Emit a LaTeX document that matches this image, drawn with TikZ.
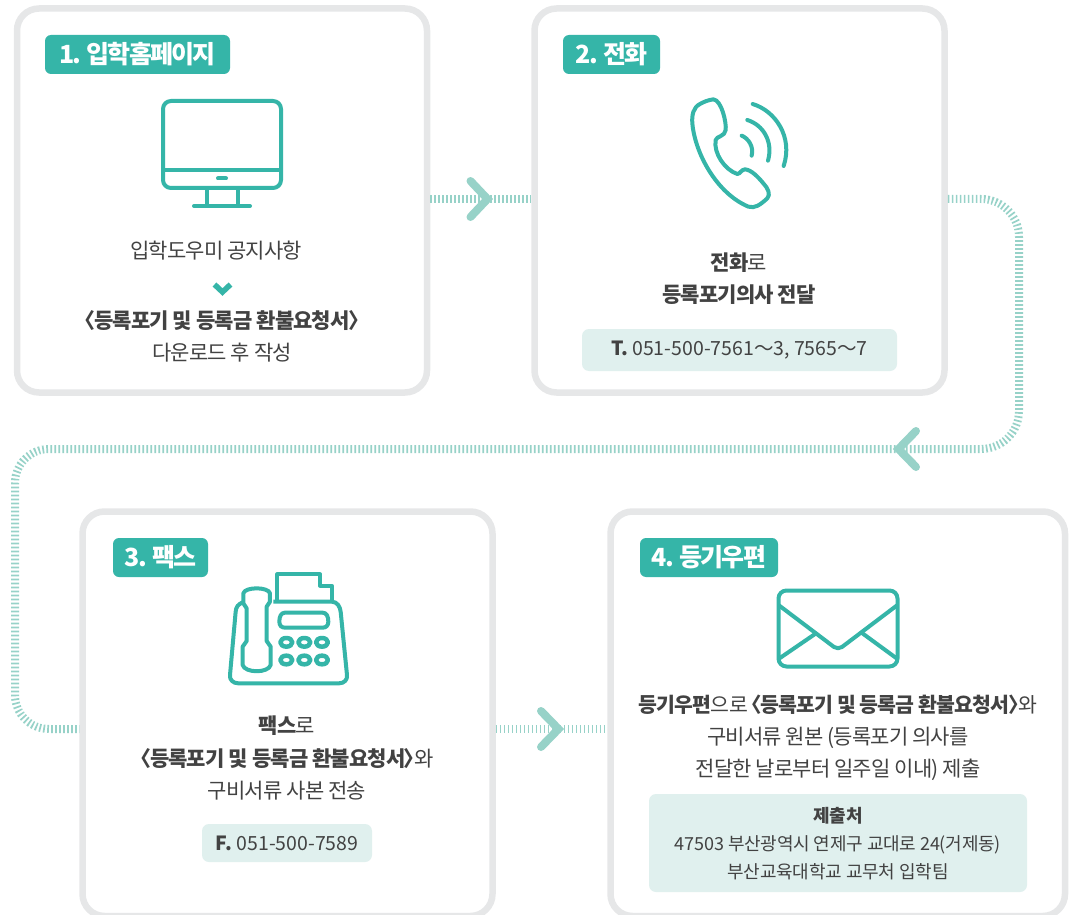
\documentclass[tikz,border=0pt]{standalone}
\usepackage{fontspec}
\setmainfont[RawFeature={+palt}]{Noto Sans CJK KR}
\newfontfamily\krbody[RawFeature={+palt}, LetterSpace=-4]{Noto Sans CJK KR}
\newfontfamily\krhead[RawFeature={+palt}, LetterSpace=-7]{Noto Sans CJK KR}
\newfontfamily\krsmall[RawFeature={+palt}, LetterSpace=-1]{Noto Sans CJK KR}
\usetikzlibrary{positioning}
\definecolor{teal1}{HTML}{35B5A8}
\definecolor{link1}{HTML}{97D2C8}
\definecolor{info1}{HTML}{E0F0EE}
\definecolor{edge1}{HTML}{E6E7E8}
\definecolor{ink1}{HTML}{424242}
\tikzset{
    card/.style={rectangle, draw=edge1, fill=white, line width=6.5pt, rounded corners=22pt, minimum width=410pt, minimum height=384pt},
    badge/.style={rectangle, fill=teal1, text=white, rounded corners=6pt, minimum height=39pt, inner sep=0pt, font=\fontsize{25}{25}\krhead\bfseries},
    info/.style={rectangle, fill=info1, rounded corners=7pt, inner sep=0pt, text=ink1, font=\fontsize{19.5}{20}\selectfont},
    txt/.style={text=ink1, inner sep=0pt, text height=21pt, text depth=4pt, font=\fontsize{21}{21}\krbody},
    small/.style={txt, text height=19pt, font=\fontsize{18}{18}\krsmall},
    link/.style={draw=link1, line width=8pt, dash pattern=on 1.7pt off 2.3pt},
    chev/.style={draw=link1, line width=8pt, line cap=round, miter limit=4},
    icon/.style={draw=teal1, line width=4pt, line join=round},
}
\begin{document}
\begin{tikzpicture}[x=1pt, y=-1pt, node distance=32pt]
    \useasboundingbox (0,0) rectangle (1072,915);

    % cards
    \coordinate (row1) at (480,199);
    \coordinate (row2) at (550,729);
    \coordinate (turn1) at (1019,199);
    \coordinate (turn2) at (1019,449);
    \coordinate (turn3) at (15,449);
    \coordinate (turn4) at (15,729);
    \coordinate (half) at (500,449);

    \node (card1) [card] at (222,200.5) {};
    \node (card2) [card] at (739.5,200.5) {};
    \node (card3) [card, minimum height=404.5pt] at (287.5,713.75) {};
    \node (card4) [card, minimum width=454.5pt, minimum height=404.5pt] at (837.75,713.75) {};

    % links
    \draw [link] (card1.east |- row1) -- (card2.west |- row1);
    \draw [link, rounded corners=38pt] (card2.east |- row1) -- (turn1) -- (turn2) -- (half);
    \draw [link, rounded corners=34pt] (half) -- (turn3) -- (turn4) -- (card3.west |- row2);
    \draw [link] (card3.east |- row2) -- (card4.west |- row2);

    \draw [chev] (470.5,181) -- (487.5,199) -- (470.5,217);
    \draw [chev] (916,431) -- (898.5,449) -- (916,467);
    \draw [chev] (541,711) -- (558.5,729) -- (541,747);

    % badges
    \node (badge1) [badge, minimum width=185pt] at (137.5,54.5) {1. 입학홈페이지};
    \node (badge2) [badge, minimum width=97pt] at (611.5,54.5) {2. 전화};
    \node (badge3) [badge, minimum width=95pt] at (160.5,557.5) {3. 팩스};
    \node (badge4) [badge, minimum width=138pt] at (709,557.5) {4. 등기우편};

    % monitor
    \draw [icon, rounded corners=8pt] (163,101) rectangle (281,188);
    \draw [icon] (163,170) -- (281,170);
    \draw [icon, line cap=round] (218,178.5) -- (226,178.5);
    \draw [icon] (206.5,188) -- (206.5,206) (237.5,188) -- (237.5,206);
    \draw [icon, line cap=round] (194,206) -- (250,206);

    % phone
    \begin{scope}[shift={(680,90)}, x=0.3333pt, y=-0.3333pt]
        \draw [icon] (100,28) .. controls (85,30) and (70,36) .. (60,42)
            .. controls (40,52) and (35,75) .. (37,100)
            .. controls (45,190) and (110,310) .. (205,350)
            .. controls (225,356) and (240,345) .. (262,325)
            .. controls (272,315) and (265,295) .. (250,280)
            .. controls (235,262) and (215,240) .. (195,238)
            .. controls (185,238) and (180,252) .. (172,252)
            .. controls (135,240) and (100,190) .. (107,150)
            .. controls (110,138) and (135,140) .. (137,120)
            .. controls (140,100) and (125,30) .. (100,28) -- cycle;
        \draw [icon, line cap=round] (185,137) .. controls (205,145) and (222,170) .. (215,197);
        \draw [icon, line cap=round] (202,90) .. controls (250,105) and (280,155) .. (264,212);
        \draw [icon, line cap=round] (218,42) .. controls (285,62) and (340,140) .. (311,228);
    \end{scope}

    % fax
    \begin{scope}[shift={(220,565)}, x=0.3333pt, y=-0.3333pt]
        \draw [icon] (172,105) -- (172,28) -- (300,28) -- (300,62) -- (335,62) -- (335,108);
        \draw [icon] (160,110) -- (335,110) .. controls (352,110) and (360,125) .. (362,140)
            -- (381,330) .. controls (383,345) and (372,355) .. (357,355)
            -- (55,355) .. controls (40,355) and (28,345) .. (30,330)
            -- (47,140) .. controls (48,125) and (55,118) .. (68,112);
        \draw [icon] (70,85) .. controls (75,65) and (145,65) .. (150,85)
            -- (150,110) -- (140,125) -- (140,228) -- (152,245) -- (152,300)
            .. controls (145,325) and (75,325) .. (68,300)
            -- (68,245) -- (80,228) -- (80,130) -- (70,115) -- cycle;
        \draw [icon] (195,143) -- (308,143) .. controls (320,143) and (325,155) .. (325,170)
            .. controls (325,182) and (318,188) .. (308,188) -- (195,188)
            .. controls (185,188) and (178,182) .. (178,170) .. controls (178,155) and (183,143) .. (195,143) -- cycle;
        \foreach \kx in {199,253,306} {
            \foreach \ky in {232,285} {
                \draw [icon, line width=4.5pt] (\kx,\ky) ellipse [x radius=18, y radius=13];
            }
        }
    \end{scope}

    % envelope
    \draw [icon, rounded corners=8pt] (778.5,590.5) rectangle (897.5,666.5);
    \draw [icon, rounded corners=5pt] (778.5,605) -- (838,650) -- (897.5,605);
    \draw [icon] (816.5,633) -- (778.5,659);
    \draw [icon] (862,633) -- (897.5,659);

    % card 1 text
    \node (note1) [txt] at (216,250) {입학도우미 공지사항};
    \draw [draw=teal1, line width=5.5pt] (214.5,284.5) -- (222.5,292) -- (230.5,284.5);
    \node (form1) [txt] at (222,320) {\bfseries 〈등록포기 및 등록금 환불요청서〉};
    \node (down1) [txt, below of=form1] {다운로드 후 작성};

    % card 2 text
    \node (call1) [txt] at (739,262) {\textbf{전화}로};
    \node (call2) [txt, below of=call1] {\bfseries 등록포기의사 전달};
    \node (tel) [info, minimum width=315pt, minimum height=42pt] at (739.5,350) {\textbf{T.} 051-500-7561～3, 7565～7};

    % card 3 text
    \node (fax1) [txt] at (287,725) {\textbf{팩스}로};
    \node (fax2) [txt, below of=fax1, yshift=-1pt] {\textbf{〈등록포기 및 등록금 환불요청서〉}와};
    \node (fax3) [txt, below of=fax2] {구비서류 사본 전송};
    \node (fnum) [info, minimum width=170pt, minimum height=38pt] at (287,843) {\textbf{F.} 051-500-7589};

    % card 4 text
    \node (mail1) [txt, font=\fontsize{20.5}{21}\krbody] at (838,704) {\textbf{등기우편}으로 \textbf{〈등록포기 및 등록금 환불요청서〉}와};
    \node (mail2) [txt, below of=mail1] {구비서류 원본 (등록포기 의사를};
    \node (mail3) [txt, below of=mail2] {전달한 날로부터 일주일 이내) 제출};
    \node (addr) [info, minimum width=378pt, minimum height=98pt] at (838,843) {};
    \node (addr1) [small] at (838,815) {\bfseries 제출처};
    \node (addr2) [small, below of=addr1, node distance=28pt] {47503 부산광역시 연제구 교대로 24(거제동)};
    \node (addr3) [small, below of=addr2, node distance=28pt] {부산교육대학교 교무처 입학팀};
\end{tikzpicture}
\end{document}
